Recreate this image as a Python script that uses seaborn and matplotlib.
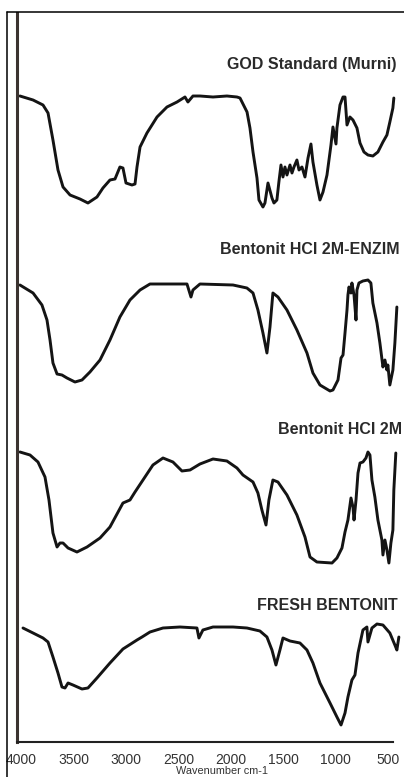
import numpy as np
import pandas as pd
import matplotlib
matplotlib.use("Agg")
import matplotlib.pyplot as plt
import matplotlib.transforms as mtransforms
from matplotlib.lines import Line2D
import seaborn as sns

# ---------------- data ----------------
god_wn = [3969, 3844, 3749, 3701, 3654, 3606, 3558, 3491, 3396, 3320, 3234, 3177,
          3110, 3062, 3015, 2986, 2957, 2900, 2871, 2852, 2823, 2757, 2661, 2566,
          2470, 2394, 2366, 2318, 2251, 2127, 1994, 1898,
          1869, 1802, 1774, 1745, 1707, 1688, 1650, 1631, 1602, 1564, 1545, 1517,
          1498, 1478, 1459, 1440, 1421, 1392, 1373, 1354, 1326, 1306, 1278, 1249,
          1220, 1192, 1173, 1135, 1106, 1077, 1039, 1001, 982, 953, 944, 915, 886,
          867, 848, 820, 791, 753, 724, 686, 648, 601, 553, 505, 467, 439, 410, 401]
god_t = [64.6, 64.2, 63.7, 62.9, 60.2, 57.2, 55.5, 54.7, 54.3, 53.9, 54.5, 55.4,
         56.2, 56.3, 57.5, 57.4, 55.9, 55.7, 55.8, 57.5, 59.5, 60.9, 62.5, 63.5,
         64.0, 64.5, 64.0, 64.6, 64.6, 64.5, 64.6, 64.5,
         64.4, 63.0, 61.4, 59.0, 56.4, 54.2, 53.5, 53.9, 55.9, 54.4, 53.9, 54.2,
         56.0, 57.7, 56.5, 57.5, 56.7, 57.7, 56.9, 57.5, 58.2, 57.2, 57.5, 56.5,
         58.4, 59.8, 58.0, 55.7, 54.2, 55.0, 56.7, 59.7, 61.5, 59.8, 61.4, 63.7, 64.5,
         64.5, 61.7, 62.5, 62.2, 61.4, 59.9, 59.0, 58.7, 58.6, 59.0, 60.0, 60.7, 62.0, 63.4, 64.4]

enz_wn = [3969, 3844, 3759, 3711, 3682, 3654, 3615, 3568, 3520, 3444, 3377, 3301,
          3205, 3110, 3015, 2919, 2823, 2728, 2566, 2375, 2337, 2318, 2251, 1936,
          1803, 1745, 1698, 1650, 1612, 1583, 1555, 1507, 1421, 1326, 1230, 1173,
          1106, 1010,
          982, 934, 905, 886, 867, 848, 839, 829, 810, 801, 781, 762, 753, 734, 696,
          648, 620, 601, 562, 534, 505, 486, 467, 458, 439, 410, 391, 372]
enz_t = [45.7, 44.9, 43.7, 42.2, 40.2, 37.9, 36.8, 36.7, 36.4, 36.0, 36.2, 37.0,
         38.2, 40.2, 42.5, 44.2, 45.2, 45.8, 45.8, 45.8, 44.5, 45.2, 45.8, 45.7,
         45.4, 44.9, 43.2, 40.9, 38.9, 41.5, 44.9, 44.5, 43.2, 41.2, 38.9, 36.9,
         35.7, 35.1,
         35.2, 36.2, 38.4, 38.7, 40.9, 43.2, 44.7, 45.5, 44.9, 45.9, 44.7, 42.2, 45.2, 45.9, 46.1,
         46.2, 45.9, 43.9, 41.9, 39.9, 37.5, 38.2, 37.2, 37.7, 35.7, 37.2, 39.9, 43.5]

hcl_wn = [3969, 3873, 3797, 3730, 3692, 3654, 3615, 3587, 3558, 3510, 3425, 3329,
          3205, 3110, 2986, 2919, 2871, 2795, 2700, 2604, 2509, 2423, 2346, 2251,
          2127, 1994, 1898, 1841, 1745, 1698, 1660, 1621, 1593, 1555, 1507, 1421,
          1326, 1249, 1201, 1135,
          991, 944, 896, 867, 839, 810, 791, 781, 762, 743, 724, 696, 667, 648, 629,
          610, 582, 553, 515, 505, 486, 467, 448, 429, 410, 401, 382]
hcl_t = [29.0, 28.7, 28.0, 26.5, 24.2, 20.9, 19.5, 19.9, 19.9, 19.4, 19.0, 19.5,
         20.4, 21.5, 23.9, 24.2, 25.0, 26.2, 27.7, 28.4, 28.0, 27.1, 27.2, 27.8,
         28.3, 28.1, 27.4, 26.7, 26.0, 24.9, 23.2, 21.7, 24.2, 26.2, 26.0, 24.7,
         22.7, 20.5, 18.5, 18.0,
         17.9, 18.4, 19.4, 21.0, 22.2, 24.4, 23.5, 22.2, 24.2, 26.9, 27.9, 28.0, 28.4, 29.0, 28.7,
         26.2, 24.5, 22.2, 20.2, 18.7, 20.2, 19.2, 17.9, 19.9, 21.2, 25.2, 28.9]

fresh_wn = [3940, 3844, 3749, 3701, 3654, 3606, 3568, 3539, 3510, 3463, 3377, 3320,
            3234, 3110, 2986, 2852, 2804, 2728, 2604, 2442, 2280, 2261, 2223, 2127,
            1936, 1803, 1679, 1612, 1564, 1526, 1488, 1459, 1392, 1297, 1230, 1173,
            1106, 1010, 944, 905, 867, 839, 801, 772, 743, 696, 658, 648, 610, 562,
            505, 439, 391, 372, 353]
fresh_t = [11.4, 10.9, 10.4, 10.0, 8.5, 6.9, 5.5, 5.4, 5.9, 5.7, 5.3, 5.4,
           6.4, 7.9, 9.3, 10.2, 10.5, 11.0, 11.4, 11.5, 11.4, 10.4, 11.2, 11.5,
           11.5, 11.4, 11.1, 10.5, 9.2, 7.7, 9.2, 10.4, 10.1, 9.9, 9.2, 7.9,
           5.9, 3.9, 2.5, 1.7, 2.9, 4.5, 6.2, 6.7, 8.9, 11.2, 11.5, 10.0, 11.4, 11.8,
           11.7, 10.9, 9.7, 9.2, 10.5]

series_names = ["GOD Standard (Murni)", "Bentonit HCI 2M-ENZIM",
                "Bentonit HCI 2M", "FRESH BENTONIT"]
x_ticks = [4000, 3500, 3000, 2500, 2000, 1500, 1000, 500]
x_label = "Wavenumber cm-1"

# ---------------- build table ----------------
frames = []
for name, wn, t in zip(series_names, [god_wn, enz_wn, hcl_wn, fresh_wn],
                       [god_t, enz_t, hcl_t, fresh_t]):
    frames.append(pd.DataFrame({"wn": wn, "t": t, "series": name}))
df = pd.concat(frames, ignore_index=True)

# ---------------- style ----------------
sns.set_style("white")
plt.rcParams["font.family"] = ["Liberation Sans", "DejaVu Sans"]

W, H = 404, 777
fig = plt.figure(figsize=(W / 100, H / 100), dpi=100)
ax = fig.add_axes([16.7 / W, 1 - 742 / H, 1 - 16.7 / W, (742 - 13) / H])

for name in series_names:
    sns.lineplot(data=df[df["series"] == name], x="wn", y="t", ax=ax,
                 color="#141414", linewidth=2.1, sort=False, estimator=None,
                 legend=False)
for ln in ax.lines:
    ln.set_solid_joinstyle("round")
    ln.set_solid_capstyle("round")

ax.set_xlim(4000, 304)
ax.set_ylim(0, 72.9)
ax.set_xticks(x_ticks)
ax.set_xticklabels([str(v) for v in x_ticks], fontsize=10, color="#333333")
ax.set_yticks([])
ax.set_xlabel("")
ax.set_ylabel("")
ax.tick_params(axis="x", direction="out", length=3, width=1, color="#222222", pad=5)
offset = mtransforms.ScaledTranslation(4.5 / 100, 0, fig.dpi_scale_trans)
for lab in ax.get_xticklabels():
    lab.set_transform(lab.get_transform() + offset)

for s in ["top", "right"]:
    ax.spines[s].set_visible(False)
ax.spines["left"].set_color("#3b3330")
ax.spines["left"].set_linewidth(2.2)
ax.spines["bottom"].set_color("#222222")
ax.spines["bottom"].set_linewidth(1.5)
ax.spines["bottom"].set_bounds(4000, 405)

# series labels
lab_kw = dict(fontsize=11.5, fontweight="bold", color="#2a2a2a", va="center")
ax.text(372, 67.7, series_names[0], ha="right", **lab_kw)
ax.text(343, 49.3, series_names[1], ha="right", **lab_kw)
ax.text(322, 31.2, series_names[2], ha="right", **lab_kw)
ax.text(362, 13.6, series_names[3], ha="right", **lab_kw)

# x label
fig.text(222 / W, 1 / H, x_label, ha="center", va="bottom", fontsize=7.8,
         color="#333333")

# outer frame lines
fig.add_artist(Line2D([7 / W, 1.0], [1 - 12 / H, 1 - 12 / H],
                      transform=fig.transFigure, color="black", linewidth=1.1))
fig.add_artist(Line2D([7 / W, 7 / W], [1 - 12 / H, 0.0],
                      transform=fig.transFigure, color="black", linewidth=1.1))

fig.savefig("out.png", dpi=100, facecolor="white")
